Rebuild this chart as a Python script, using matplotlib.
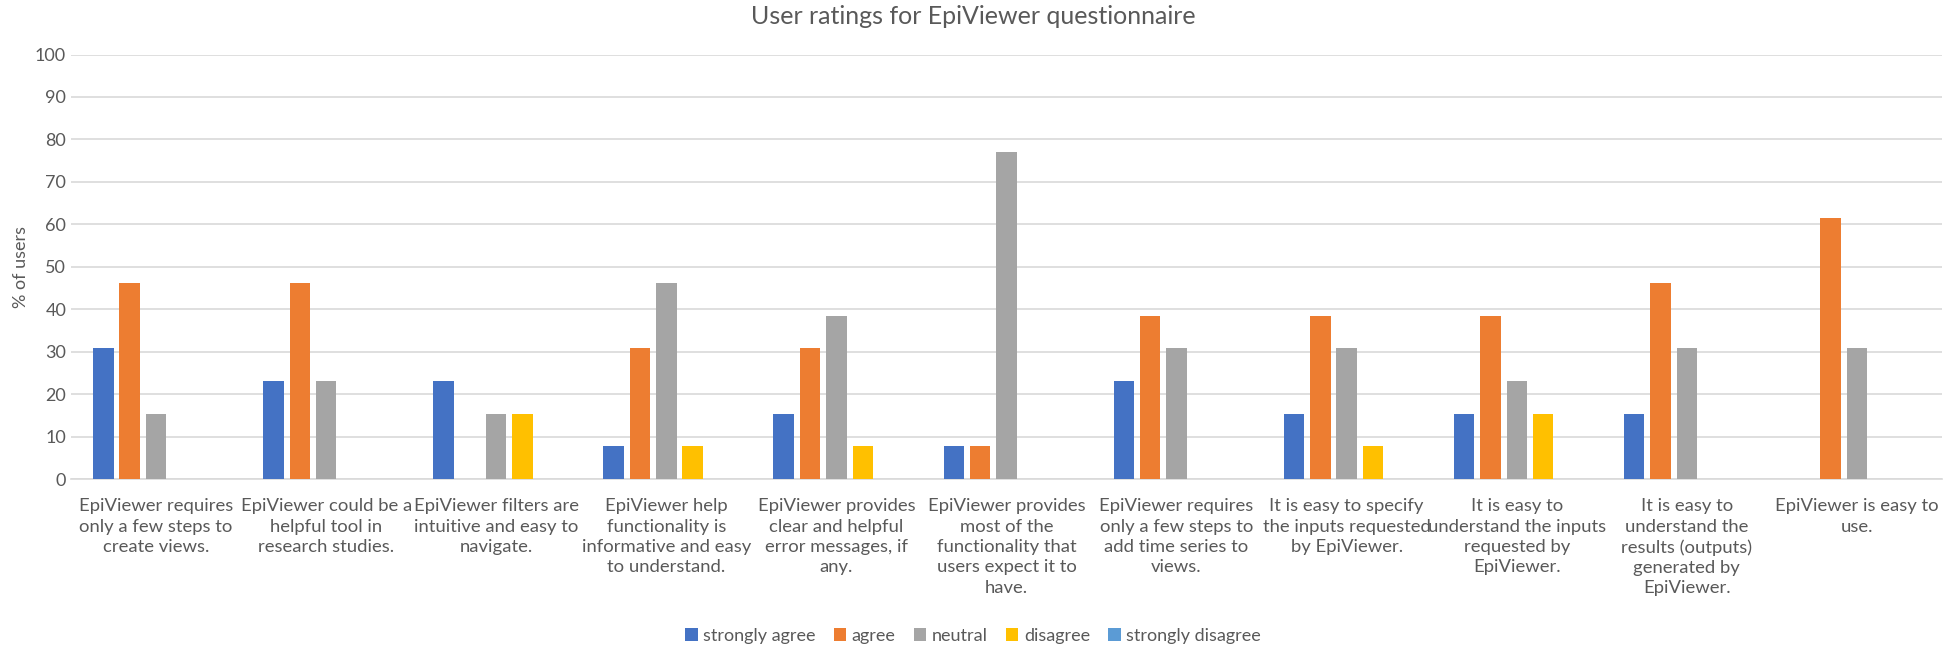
import matplotlib
matplotlib.use("Agg")
import matplotlib.pyplot as plt
import numpy as np
from matplotlib.patches import Patch

plt.rcParams['font.family'] = ['Lato', 'DejaVu Sans']

categories = [
    "EpiViewer requires\nonly a few steps to\ncreate views.",
    "EpiViewer could be a\nhelpful tool in\nresearch studies.",
    "EpiViewer filters are\nintuitive and easy to\nnavigate.",
    "EpiViewer help\nfunctionality is\ninformative and easy\nto understand.",
    "EpiViewer provides\nclear and helpful\nerror messages, if\nany.",
    "EpiViewer provides\nmost of the\nfunctionality that\nusers expect it to\nhave.",
    "EpiViewer requires\nonly a few steps to\nadd time series to\nviews.",
    "It is easy to specify\nthe inputs requested\nby EpiViewer.",
    "It is easy to\nunderstand the inputs\nrequested by\nEpiViewer.",
    "It is easy to\nunderstand the\nresults (outputs)\ngenerated by\nEpiViewer.",
    "EpiViewer is easy to\nuse.",
]
series_names = ["strongly agree", "agree", "neutral", "disagree", "strongly disagree"]
strongly_agree = [30.77, 23.08, 23.08, 7.69, 15.38, 7.69, 23.08, 15.38, 15.38, 15.38, 0]
agree = [46.15, 46.15, 0, 30.77, 30.77, 7.69, 38.46, 38.46, 38.46, 46.15, 61.54]
neutral = [15.38, 23.08, 15.38, 46.15, 38.46, 76.92, 30.77, 30.77, 23.08, 30.77, 30.77]
disagree = [0, 0, 15.38, 7.69, 7.69, 0, 0, 7.69, 15.38, 0, 0]
strongly_disagree = [0, 0, 0, 0, 0, 0, 0, 0, 0, 0, 0]
yticks = list(range(0, 101, 10))

colors = ["#4472C4", "#ED7D31", "#A5A5A5", "#FFC000", "#5B9BD5"]
all_series = [strongly_agree, agree, neutral, disagree, strongly_disagree]

fig = plt.figure(figsize=(19.46, 6.47), dpi=100)
ax = fig.add_axes([71/1946, 1 - 479/647, (1942-71)/1946, (479-54.5)/647])

x = np.arange(len(categories))
pitch = 0.155
width = 0.12
for i, (vals, c) in enumerate(zip(all_series, colors)):
    ax.bar(x + (i - 2) * pitch, vals, width=width, color=c, zorder=3)

ax.set_xlim(-0.5, len(categories) - 0.5)
ax.set_ylim(0, 100)
ax.set_yticks(yticks)
ax.yaxis.grid(True, color="#D9D9D9", linewidth=1.2, zorder=0)
for s in ["top", "right", "left"]:
    ax.spines[s].set_visible(False)
ax.spines["bottom"].set_color("#D9D9D9")
ax.spines["bottom"].set_linewidth(1.2)
ax.tick_params(axis="both", length=0, labelsize=13, colors="#595959")
ax.tick_params(axis="x", pad=14)
ax.set_xticks(x)
ax.set_xticklabels(categories, fontsize=13.3, color="#595959", linespacing=1.33)
ax.set_ylabel("% of users", fontsize=13, color="#595959", labelpad=4)

fig.text(0.5, 1 - 16/647, "User ratings for EpiViewer questionnaire", ha="center", va="center",
         fontsize=18, color="#595959")

handles = [Patch(facecolor=c, label=n) for c, n in zip(colors, series_names)]
fig.legend(handles=handles, loc="center", bbox_to_anchor=(0.5, 1 - 636/647), ncol=5, frameon=False,
           fontsize=13, labelcolor="#595959", handlelength=0.7, handleheight=0.7,
           handletextpad=0.3, columnspacing=1.0)

fig.savefig("out.png", dpi=100)
